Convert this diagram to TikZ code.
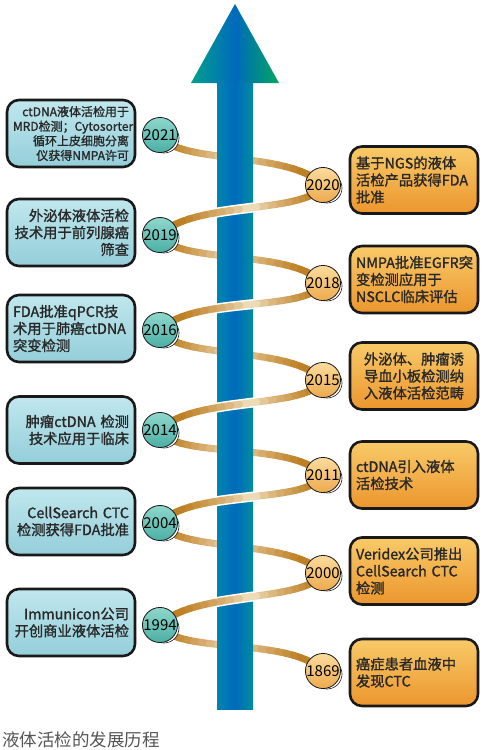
\documentclass[tikz,border=0pt]{standalone}
\usepackage{fontspec}
\setmainfont{Noto Sans CJK SC}
\newfontfamily\medfont{Noto Sans CJK SC}[FakeBold=1.3]
\usetikzlibrary{positioning,calc}
\definecolor{inkline}{RGB}{25,25,25}
\definecolor{txtgray}{RGB}{40,40,40}
\definecolor{capgray}{RGB}{85,85,85}
\definecolor{tealtop}{RGB}{192,231,237}
\definecolor{tealbot}{RGB}{148,206,218}
\definecolor{orgtop}{RGB}{248,202,104}
\definecolor{orgbot}{RGB}{236,150,46}
\definecolor{ballTtop}{RGB}{142,215,204}
\definecolor{ballTbot}{RGB}{76,175,164}
\definecolor{ballOtop}{RGB}{252,220,158}
\definecolor{ballObot}{RGB}{236,170,78}
\definecolor{gold}{RGB}{190,128,36}
\definecolor{cream}{RGB}{248,238,215}
\definecolor{shaftL}{RGB}{0,133,175}
\definecolor{shaftM}{RGB}{0,106,188}
\definecolor{shaftR}{RGB}{0,140,160}
\definecolor{headL}{RGB}{0,160,140}
\definecolor{headR}{RGB}{0,166,96}
\newcommand{\boxfont}{\medfont\fontsize{14.3}{17}\selectfont}
\newcommand{\smallboxfont}{\medfont\fontsize{12}{14.6}\selectfont}
\newcommand{\yearfont}{\fontsize{15}{15}\selectfont}
% gold-to-cream ribbon between two year discs
\newcommand{\ribbonseg}[3]{%
  \path (#1.center) .. controls #3 .. (#2.center)
    \foreach \k in {0,...,24}{coordinate[pos=\k/24] (rb\k)};
  \foreach \k [evaluate=\k as \kk using int(\k+1),
               evaluate=\k as \mix using {100*min(1,1.25*(abs(2*(\k+0.5)/24-1))^0.6)}] in {0,...,23}
    \draw[ribbon, color=gold!\mix!cream] (rb\k) -- (rb\kk);
}
\newcommand{\ribboncut}[3]{%
  \begin{scope}
    \clip (214,0) rectangle (256,750);
    \draw[white, line width=10pt] (#1.center) .. controls #3 .. (#2.center);
  \end{scope}
}
\pgfdeclarelayer{ribback}
\pgfdeclarelayer{arrowlayer}
\pgfdeclarelayer{ribfront}
\pgfsetlayers{ribback,arrowlayer,ribfront,main}

\begin{document}
\begin{tikzpicture}[x=1pt, y=-1pt,
  evL/.style={draw=inkline, line width=2.6pt, rounded corners=12pt,
              top color=tealtop, bottom color=tealbot, text=txtgray,
              text width=116pt, inner xsep=6pt, minimum height=67pt,
              align=right, font=\boxfont},
  evR/.style={draw=inkline, line width=2.6pt, rounded corners=12pt,
              top color=orgtop, bottom color=orgbot, text=txtgray,
              text width=116pt, inner xsep=6pt, minimum height=67pt,
              align=left, font=\boxfont},
  yrL/.style={circle, draw=inkline, line width=0.8pt, minimum size=30pt,
              inner sep=0pt, top color=ballTtop, bottom color=ballTbot, font=\yearfont},
  yrR/.style={circle, draw=inkline, line width=0.8pt, minimum size=30pt,
              inner sep=0pt, top color=ballOtop, bottom color=ballObot, font=\yearfont},
  ring/.style={draw=inkline, line width=0.6pt, fill=white},
  ribbon/.style={line width=7pt, line cap=round}]
\useasboundingbox (0,0) rectangle (486,750);
% year discs
\foreach \yr/\yy in {2021/135,2019/235,2016/330,2014/430,2004/523,1994/625}{
  \draw[ring] (164,\yy+3) circle (15pt);
  \node[yrL] (y\yr) at (160,\yy) {\yr};
}
\foreach \yr/\yy in {2020/185,2018/283,2015/380,2011/475,2000/573,1869/671}{
  \draw[ring] (327,\yy+3) circle (15pt);
  \node[yrR] (y\yr) at (323,\yy) {\yr};
}
% left events
\node[evL, font=\smallboxfont] (e2021) at (71,133.5) {ctDNA液体活检用于\\MRD检测；Cytosorter\\循环上皮细胞分离\\仪获得NMPA许可};
\node[evL] (e2019) at (71,232.5) {外泌体液体活检\\技术用于前列腺癌\\筛查};
\node[evL, align=left] (e2016) at (71,328.5) {FDA批准qPCR技\\术用于肺癌ctDNA\\突变检测};
\node[evL] (e2014) at (71,430) {肿瘤ctDNA 检测\\技术应用于临床};
\node[evL] (e2004) at (71,521.5) {CellSearch CTC\\检测获得FDA批准};
\node[evL] (e1994) at (71,622.5) {Immunicon公司\\开创商业液体活检};
% right events
\node[evR] (e2020) at (414,180) {基于NGS的液体\\活检产品获得FDA\\批准};
\node[evR] (e2018) at (414,279.5) {NMPA批准EGFR突\\变检测应用于\\NSCLC临床评估};
\node[evR, align=center] (e2015) at (414,376) {外泌体、肿瘤诱\\导血小板检测纳\\入液体活检范畴};
\node[evR] (e2011) at (414,475) {ctDNA引入液体\\活检技术};
\node[evR] (e2000) at (414,571) {Veridex公司推出\\CellSearch CTC\\检测};
\node[evR] (e1869) at (414,672.5) {癌症患者血液中\\发现CTC};
% caption
\node[anchor=west, inner sep=0pt, text=capgray, font=\fontsize{17.5}{18}\selectfont] (caption) at (2,740) {液体活检的发展历程};
% ribbons passing behind the arrow
\begin{pgfonlayer}{ribback}
\foreach \a/\b in {2021/2020,2019/2018,2016/2015,2014/2011,2004/2000,1994/1869}
  \ribbonseg{y\a}{y\b}{+(15,30) and +(-33,-35)};
\end{pgfonlayer}
% arrow
\begin{pgfonlayer}{arrowlayer}
\shade[left color=shaftL, right color=shaftR, middle color=shaftM] (217,82) rectangle (253,709);
\shade[left color=headL, right color=headR, middle color=shaftM] (191,83) -- (235,4) -- (279,83) -- cycle;
\end{pgfonlayer}
% ribbons passing in front of the arrow
\begin{pgfonlayer}{ribfront}
\foreach \a/\b in {2020/2019,2018/2016,2015/2014,2011/2004,2000/1994}{
  \ribboncut{y\a}{y\b}{+(-15,30) and +(33,-35)}
  \ribbonseg{y\a}{y\b}{+(-15,30) and +(33,-35)}
}
\end{pgfonlayer}
\end{tikzpicture}
\end{document}
